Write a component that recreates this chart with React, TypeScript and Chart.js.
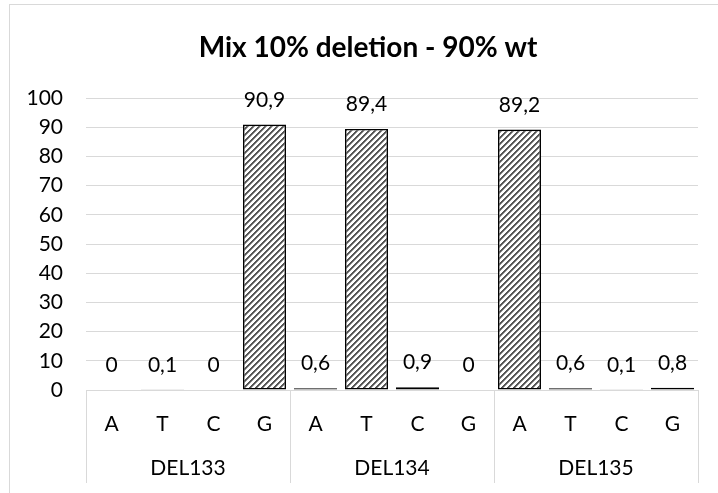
import React, { useEffect, useRef } from 'react';
import { Chart, registerables } from 'chart.js';

Chart.register(...registerables);

// ---- data ----
const bases: string[] = ['A', 'T', 'C', 'G', 'A', 'T', 'C', 'G', 'A', 'T', 'C', 'G'];
const groups: string[] = ['DEL133', 'DEL134', 'DEL135'];
const values: number[] = [0, 0.1, 0, 90.9, 0.6, 89.4, 0.9, 0, 89.2, 0.6, 0.1, 0.8];
const yMin = 0;
const yMax = 100;
const yStep = 10;
const chartTitle = 'Mix 10% deletion - 90% wt';

// ---- styles ----
const FONT = 'Lato, "Open Sans", sans-serif';
const GRID = '#d9d9d9';
const TEXT = '#000000';

function makePattern(): CanvasPattern | string {
  const n = 6;
  const c = document.createElement('canvas');
  c.width = n;
  c.height = n;
  const g = c.getContext('2d');
  if (!g) return '#888';
  const img = g.createImageData(n, n);
  for (let y = 0; y < n; y++) {
    for (let x = 0; x < n; x++) {
      const k = (x + y) % n;
      const v = k < 2 ? 85 : k === 2 ? 150 : 255;
      const i = (y * n + x) * 4;
      img.data[i] = v;
      img.data[i + 1] = v;
      img.data[i + 2] = v;
      img.data[i + 3] = 255;
    }
  }
  g.putImageData(img, 0, 0);
  const p = g.createPattern(c, 'repeat');
  return p || '#888';
}

const framePlugin = {
  id: 'frame',
  beforeDraw(chart: any) {
    const ctx = chart.ctx;
    ctx.save();
    ctx.fillStyle = '#ffffff';
    ctx.fillRect(0, 0, chart.width, chart.height);
    ctx.strokeStyle = GRID;
    ctx.lineWidth = 1;
    ctx.strokeRect(9.5, 4.5, 730, 520);
    ctx.restore();
  },
};

const titlePlugin = {
  id: 'customTitle',
  afterDraw(chart: any) {
    const ctx = chart.ctx;
    ctx.save();
    ctx.font = `bold 28px ${FONT}`;
    ctx.fillStyle = TEXT;
    ctx.textAlign = 'center';
    ctx.textBaseline = 'alphabetic';
    ctx.fillText(chartTitle, 368, 57);
    ctx.restore();
  },
};

const valueLabelPlugin = {
  id: 'valueLabels',
  afterDatasetsDraw(chart: any) {
    const ctx = chart.ctx;
    const meta = chart.getDatasetMeta(0);
    ctx.save();
    ctx.font = `21px ${FONT}`;
    ctx.fillStyle = TEXT;
    ctx.textAlign = 'center';
    ctx.textBaseline = 'alphabetic';
    meta.data.forEach((bar: any, i: number) => {
      const v = values[i];
      const txt = String(v).replace('.', ',');
      ctx.fillText(txt, bar.x, bar.y - 18);
    });
    ctx.restore();
  },
};

const groupLabelPlugin = {
  id: 'groupLabels',
  afterDraw(chart: any) {
    const ctx = chart.ctx;
    const xs = chart.scales.x;
    const per = bases.length / groups.length;
    ctx.save();
    ctx.font = `21px ${FONT}`;
    ctx.fillStyle = TEXT;
    ctx.textAlign = 'center';
    ctx.textBaseline = 'middle';
    groups.forEach((g, gi) => {
      const a = xs.getPixelForValue(gi * per);
      const b = xs.getPixelForValue(gi * per + per - 1);
      ctx.fillText(g, (a + b) / 2, 468);
    });
    ctx.restore();
  },
};

export default function App() {
  const ref = useRef<HTMLCanvasElement | null>(null);

  useEffect(() => {
    if (!ref.current) return;
    const pattern = makePattern();
    const chart = new Chart(ref.current, {
      type: 'bar',
      data: {
        labels: bases,
        datasets: [
          {
            data: values,
            backgroundColor: pattern as any,
            borderColor: '#000000',
            borderWidth: 1.6,
            borderSkipped: false,
            barPercentage: 0.843,
            categoryPercentage: 1,
          },
        ],
      },
      options: {
        responsive: false,
        animation: false,
        devicePixelRatio: 1,
        layout: { padding: { top: 98, right: 20, bottom: 0, left: 0 } },
        plugins: {
          legend: { display: false },
          title: { display: false },
          tooltip: { enabled: false },
        },
        scales: {
          x: {
            type: 'category',
            offset: true,
            grid: {
              display: true,
              offset: true,
              drawOnChartArea: false,
              drawTicks: true,
              tickLength: 93,
              lineWidth: 1,
              color: (c: any) =>
                c.type !== 'tick' || c.index % (bases.length / groups.length) === 0
                  ? GRID
                  : 'rgba(0,0,0,0)',
            },
            border: { display: true, color: GRID, width: 1 },
            ticks: {
              font: { family: FONT, size: 21 },
              color: TEXT,
              padding: -71,
              maxRotation: 0,
              autoSkip: false,
            },
            afterFit: (s: any) => {
              s.height = 103;
            },
          },
          y: {
            min: yMin,
            max: yMax,
            ticks: {
              stepSize: yStep,
              font: { family: FONT, size: 21 },
              color: TEXT,
              padding: 23,
            },
            grid: { color: GRID, lineWidth: 1, drawTicks: false },
            border: { display: false },
            afterFit: (s: any) => {
              s.width = 86;
            },
          },
        },
      },
      plugins: [framePlugin, valueLabelPlugin, groupLabelPlugin, titlePlugin],
    });
    return () => chart.destroy();
  }, []);

  return (
    <div style={{ position: 'absolute', left: 0, top: 0, width: 718, height: 493 }}>
      <canvas ref={ref} width={718} height={493} style={{ display: 'block' }} />
    </div>
  );
}
